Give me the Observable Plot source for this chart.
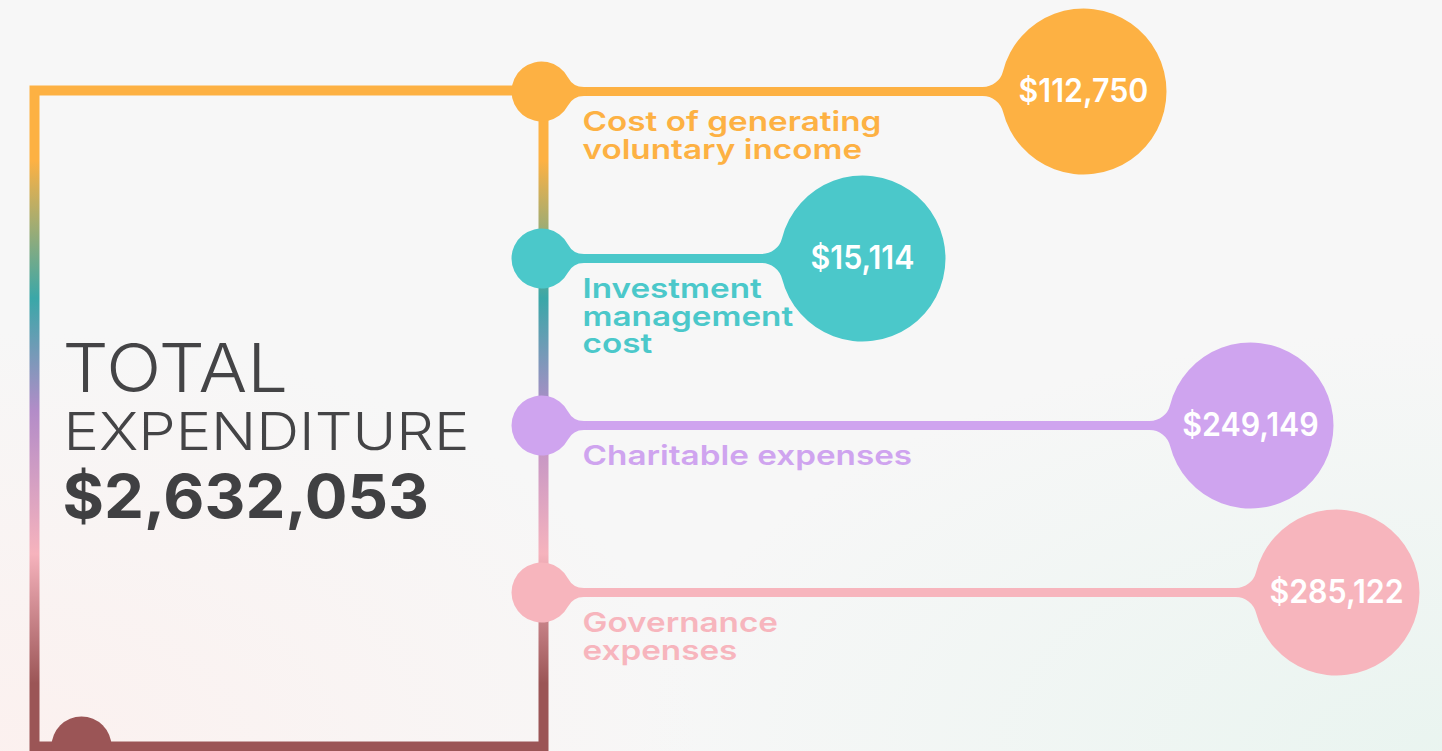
<!DOCTYPE html>
<html>
<head>
<meta charset="utf-8">
<script src="https://cdn.jsdelivr.net/npm/d3@7"></script>
<script src="https://cdn.jsdelivr.net/npm/@observablehq/plot@0.6"></script>
<style>
html, body { margin: 0; padding: 0; }
body {
  width: 1442px; height: 751px; overflow: hidden;
  background:
    radial-gradient(ellipse 700px 420px at 0% 100%, rgba(252,240,238,0.9) 0%, rgba(252,240,238,0) 100%),
    radial-gradient(ellipse 800px 420px at 100% 100%, rgba(232,244,239,0.9) 0%, rgba(232,244,239,0) 100%),
    #f7f7f7;
}
svg { display: block; }
</style>
</head>
<body>
<div id="chart"></div>
<script>
// ---- data ----
const categories = [
  "Cost of generating voluntary income",
  "Investment management cost",
  "Charitable expenses",
  "Governance expenses"
];
const labelLines = [
  "Cost of generating\nvoluntary income",
  "Investment\nmanagement\ncost",
  "Charitable expenses",
  "Governance\nexpenses"
];
const values = [112750, 15114, 249149, 285122];
const colors = ["#fdb143", "#4bc8ca", "#cfa4ef", "#f7b5bd"];
const totalLines = ["TOTAL", "EXPENDITURE"];
const totalValue = 2632053;

const rows = categories.map((c, i) => ({category: c, label: labelLines[i], value: values[i]}));
const fmt = d3.format(",");

// ---- custom symbol: circle with a filleted neck joining a line ----
function neckSymbol(dir, rf, h) {
  return {
    draw(ctx, size) {
      const r = Math.sqrt(size / Math.PI);
      const cx = Math.sqrt((r + rf) ** 2 - (h + rf) ** 2);
      const tx = cx * r / (r + rf), ty = (h + rf) * r / (r + rf);
      const th = Math.atan2(ty, tx);
      const X = (x) => dir * x;
      const A = (a) => dir > 0 ? a : Math.PI - a;
      const arc = (x, y, rr, a0, a1, ccw) => ctx.arc(X(x), y, rr, A(a0), A(a1), dir > 0 ? ccw : !ccw);
      ctx.moveTo(X(tx), -ty);
      arc(0, 0, r, -th, th, true);
      const aB = Math.atan2(ty - (h + rf), tx - cx);
      arc(cx, h + rf, rf, aB, -Math.PI / 2, false);
      ctx.lineTo(X(cx + 3), h);
      ctx.lineTo(X(cx + 3), -h);
      ctx.lineTo(X(cx), -h);
      const aT = Math.atan2(-ty + h + rf, tx - cx);
      arc(cx, -(h + rf), rf, Math.PI / 2, aT, false);
      ctx.closePath();
    }
  };
}
const nodeSymbol = neckSymbol(1, 18, 4.5);
const bubbleSymbol = neckSymbol(-1, 21, 4.5);

const gradientDefs = () => {
  const defs = d3.create("svg:defs");
  const g = defs.append("linearGradient")
    .attr("id", "frameGrad").attr("x1", 0).attr("y1", 0).attr("x2", 0).attr("y2", 1);
  [[0.107, "#fdb143"], [0.317, "#3aa7a8"], [0.489, "#b38cc8"], [0.706, "#f6b3bd"], [0.904, "#9b5556"], [1, "#9b5556"]]
    .forEach(([o, c]) => g.append("stop").attr("offset", o).attr("stop-color", c));
  return defs.node();
};

const font = "Inter, 'Open Sans', sans-serif";

const chart = Plot.plot({
  width: 1442,
  height: 751,
  marginLeft: 34,
  marginRight: 899,
  marginTop: 90,
  marginBottom: 5,
  style: {background: "transparent", fontFamily: font, overflow: "visible"},
  x: {type: "linear", domain: [0, ...d3.sort(values)], range: [543, 862, 1083, 1250, 1336], axis: null},
  y: {type: "point", domain: categories, range: [90, 592], padding: 0, axis: null},
  color: {type: "ordinal", domain: categories, range: colors},
  marks: [
    gradientDefs,
    Plot.frame({stroke: "url(#frameGrad)", strokeWidth: 10}),
    Plot.dot([0], {frameAnchor: "bottom-left", dx: 47, r: 30, fill: "#9b5556"}),
    Plot.ruleY(rows, {y: "category", x1: 0, x2: "value", stroke: "category", strokeWidth: 9}),
    Plot.dot(rows, {y: "category", frameAnchor: "right", dx: -2, r: 30, fill: "category", symbol: nodeSymbol}),
    Plot.dot(rows, {x: "value", y: "category", r: 83, fill: "category", symbol: bubbleSymbol}),
    Plot.text(rows, {
      x: "value", y: "category", text: d => "$" + fmt(d.value),
      fill: "white", fontSize: 32, fontWeight: 600, textAnchor: "middle", lineAnchor: "middle"
    }),
    Plot.text(rows, {
      y: "category", frameAnchor: "right", dx: 39, dy: 20, text: "label",
      fill: "category", fontSize: 27.5, fontWeight: 600, textAnchor: "start", lineAnchor: "top", lineHeight: 1.0
    }),
    Plot.text([totalLines[0]], {
      frameAnchor: "top-left", dx: 28, dy: 254, text: d => d,
      fill: "#444446", fontSize: 67, fontWeight: 300, textAnchor: "start", lineAnchor: "top"
    }),
    Plot.text([totalLines[1]], {
      frameAnchor: "top-left", dx: 29, dy: 323, text: d => d,
      fill: "#444446", fontSize: 52, fontWeight: 300, textAnchor: "start", lineAnchor: "top"
    }),
    Plot.text([totalValue], {
      frameAnchor: "top-left", dx: 28, dy: 384, text: d => "$" + fmt(d),
      fill: "#404042", fontSize: 61, fontWeight: 700, textAnchor: "start", lineAnchor: "top"
    })
  ]
});

// widen glyphs horizontally to imitate the wide geometric typeface of the original
const stretch = [0.95, 1.21, 1.08, 1.145, 1.04];
chart.querySelectorAll('g[aria-label="text"]').forEach((g, i) => {
  const s = stretch[i] ?? 1;
  if (s === 1) return;
  g.querySelectorAll("text").forEach(t => {
    const tr = t.getAttribute("transform") || "";
    t.setAttribute("transform", (tr + ` scale(${s},1)`).trim());
  });
});
document.getElementById("chart").appendChild(chart);
</script>
</body>
</html>
